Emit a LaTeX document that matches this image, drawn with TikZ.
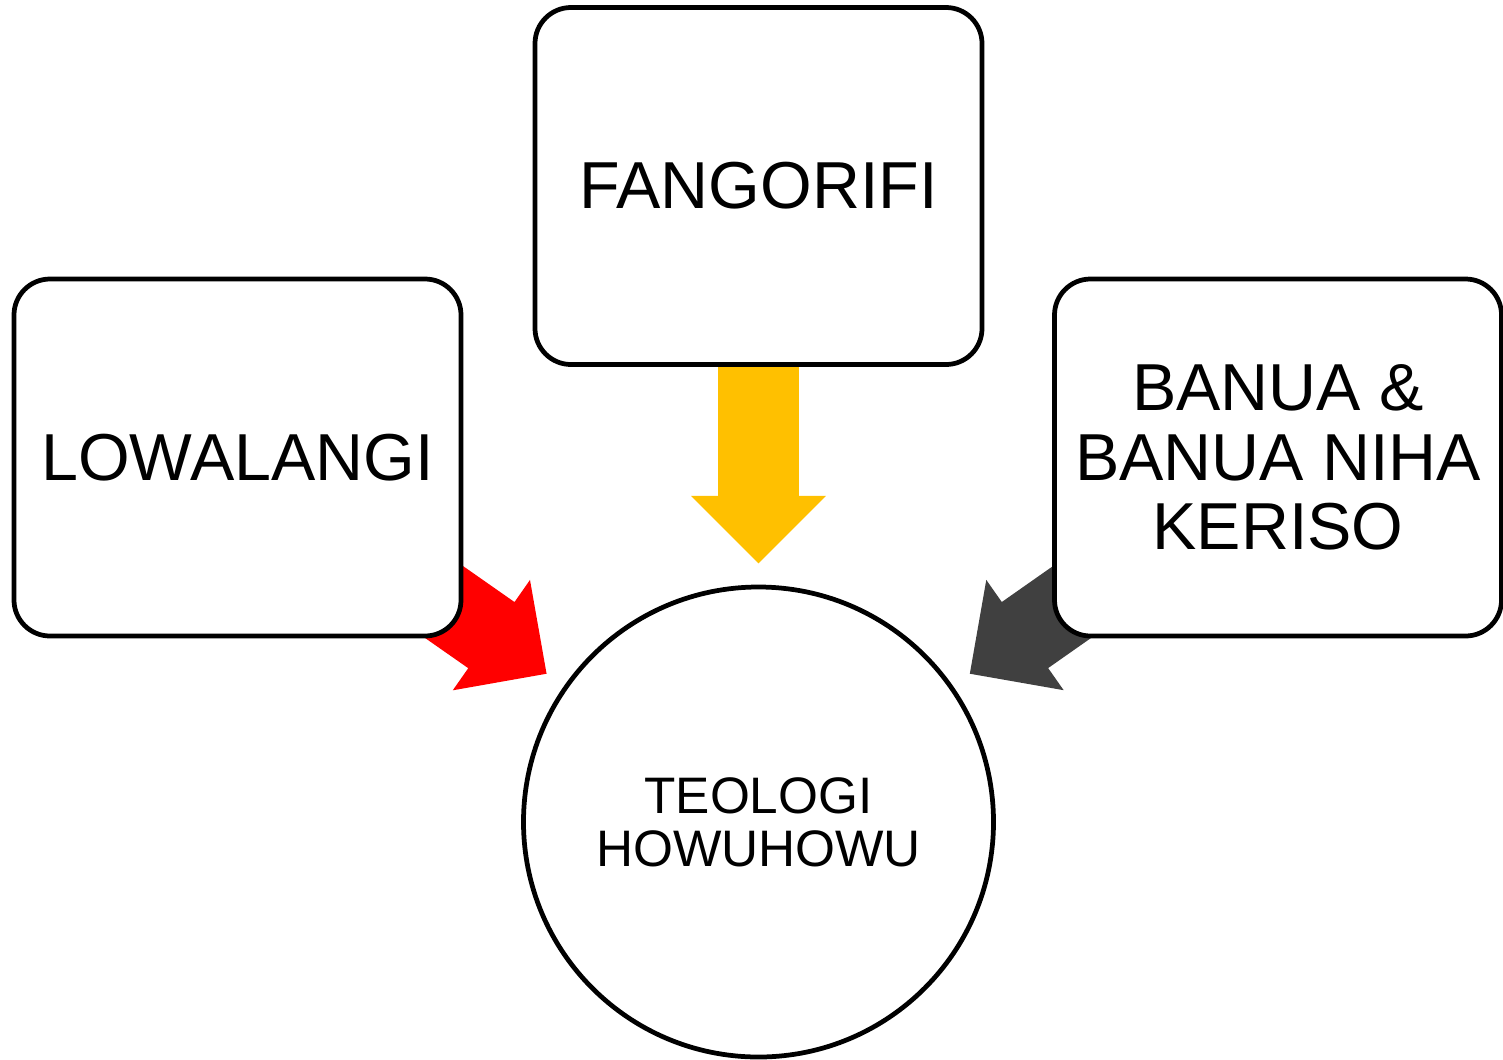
\documentclass[tikz,border=0pt]{standalone}
\usepackage{fontspec}
\setmainfont{Liberation Sans}
\usetikzlibrary{shapes.arrows,backgrounds}
\definecolor{flame}{RGB}{255,0,0}
\definecolor{amber}{RGB}{255,192,0}
\definecolor{slate}{RGB}{64,64,64}

\begin{document}
\begin{tikzpicture}[x=.2mm,y=-.2mm,line width=.95mm,
  topic/.style={draw,fill=white,rounded corners=7.2mm,minimum width=89.4mm,minimum height=71.4mm,
    align=center,inner sep=0pt,font=\fontsize{37.8}{39.5}\selectfont},
  core/.style={draw,fill=white,circle,minimum size=94mm,align=center,inner sep=0pt,
    font=\fontsize{29.2}{30.2}\selectfont},
  flow/.style={single arrow,draw=none,inner xsep=0pt,inner ysep=8mm,minimum height=48mm,
    single arrow head extend=5.4mm,sloped,allow upside down,pos=.594,anchor=tip}]
\useasboundingbox (0,0) rectangle (1503,1059);
\node[topic] (fangorifi) at (758.5,186) {FANGORIFI};
\node[topic] (lowalangi) at (237.5,457.5) {LOWALANGI};
\node[topic] (banua) at (1278,457.5) {BANUA \&\\BANUA NIHA\\KERISO};
\node[core] (teologi) at (758.5,822) {TEOLOGI\\HOWUHOWU};
% arrows sit under the boxes
\begin{pgfonlayer}{background}
\path (fangorifi.center) -- (teologi.center) node[flow,fill=amber] (toyellow) {};
\path (lowalangi.center) -- (teologi.center) node[flow,fill=flame] (tored) {};
\path (banua.center) -- (teologi.center) node[flow,fill=slate] (togrey) {};
\end{pgfonlayer}
\end{tikzpicture}
\end{document}
